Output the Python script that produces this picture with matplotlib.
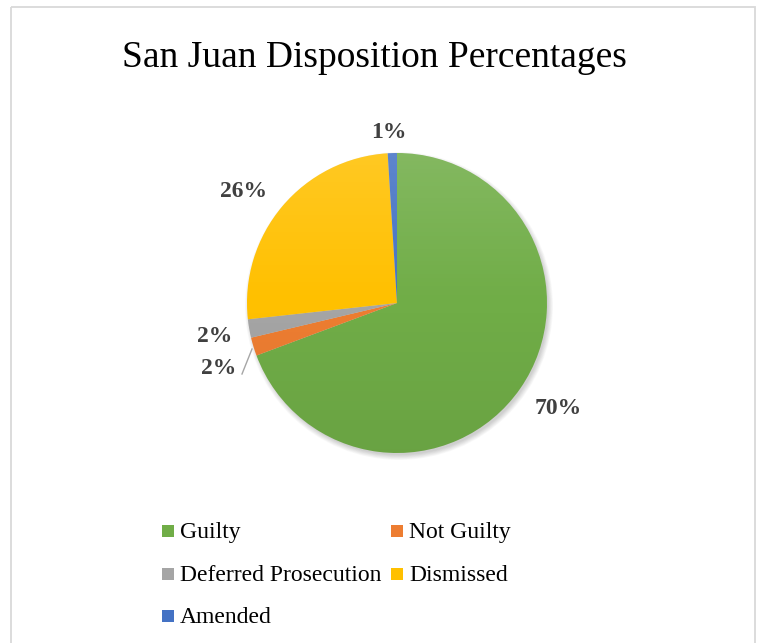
import matplotlib
matplotlib.use("Agg")
import matplotlib.pyplot as plt
import numpy as np
from matplotlib.patches import Circle, Rectangle

# disposition shares (percent, as labelled)
categories = ["Guilty", "Not Guilty", "Deferred Prosecution", "Dismissed", "Amended"]
percentages = [70, 2, 2, 26, 1]
colors = ["#70AD47", "#ED7D31", "#A5A5A5", "#FFC000", "#4472C4"]

SERIF = ["Liberation Serif", "DejaVu Serif"]
W, H = 760, 643
CX, CY, R = 397, 303, 150

fig = plt.figure(figsize=(W / 100, H / 100), dpi=100)
ax = fig.add_axes([0, 0, 1, 1])

# chart frame
ax.add_patch(Rectangle((10.5, 7), 744, 700, fill=False, ec="#D9D9D9", lw=1.3))

ax.text(374.5, 67, "San Juan Disposition Percentages", family=SERIF,
        fontsize=27, ha="center", va="baseline", color="black")

# soft drop shadow under the pie
for i in range(8):
    ax.add_patch(Circle((CX + 2, CY + 3), R + 4 - i * 0.7, color="black",
                        alpha=0.025, lw=0, zorder=1))

# y axis is inverted below, so counterclockwise in data is clockwise on screen
wedges, _ = ax.pie(percentages, colors=colors, startangle=-90, counterclock=True,
                   center=(CX, CY), radius=R, frame=True,
                   wedgeprops=dict(lw=0, zorder=2))

# light-at-top / dark-at-bottom sheen over the whole pie
t = np.linspace(0, 1, 256)
alpha_w = np.clip(0.14 * (1 - t / 0.5), 0, None)
alpha_k = np.clip(0.06 * (t - 0.5) / 0.5, 0, None)
sheen = np.zeros((256, 2, 4))
sheen[:, :, :3] = np.where(alpha_w[:, None, None] > 0, 1.0, 0.0)
sheen[:, :, 3] = (alpha_w + alpha_k)[:, None]
im = ax.imshow(sheen, extent=(CX - R, CX + R, CY + R, CY - R), origin="upper",
               interpolation="bilinear", zorder=3)
rim = Circle((CX, CY), R, fill=False, lw=0)
ax.add_patch(rim)
im.set_clip_path(rim)

ax.set_xlim(0, W)
ax.set_ylim(H, 0)  # pixel coordinates, y downwards
ax.set_aspect("equal")
ax.axis("off")

# data labels
label_pos = [(558, 414), (218.5, 374), (214.5, 342), (243.5, 197), (389, 138)]
for (x, y), v in zip(label_pos, percentages):
    ax.text(x, y, f"{v}%", family=SERIF, fontsize=17, fontweight="bold",
            color="#404040", ha="center", va="baseline", zorder=5)
ax.plot([252, 242], [349, 374], color="#A6A6A6", lw=1.0, zorder=5)

# legend, filled row by row
leg_x = [162, 391]
leg_base = [538, 581, 623]
for i, (name, c) in enumerate(zip(categories, colors)):
    row, col = divmod(i, 2)
    x, yb = leg_x[col], leg_base[row]
    ax.add_patch(Rectangle((x, yb - 13), 12, 12, color=c, lw=0, zorder=5))
    ax.text(x + 18, yb, name, family=SERIF, fontsize=17, color="black",
            ha="left", va="baseline", zorder=5)

fig.savefig("out.png", dpi=100, facecolor="white")
